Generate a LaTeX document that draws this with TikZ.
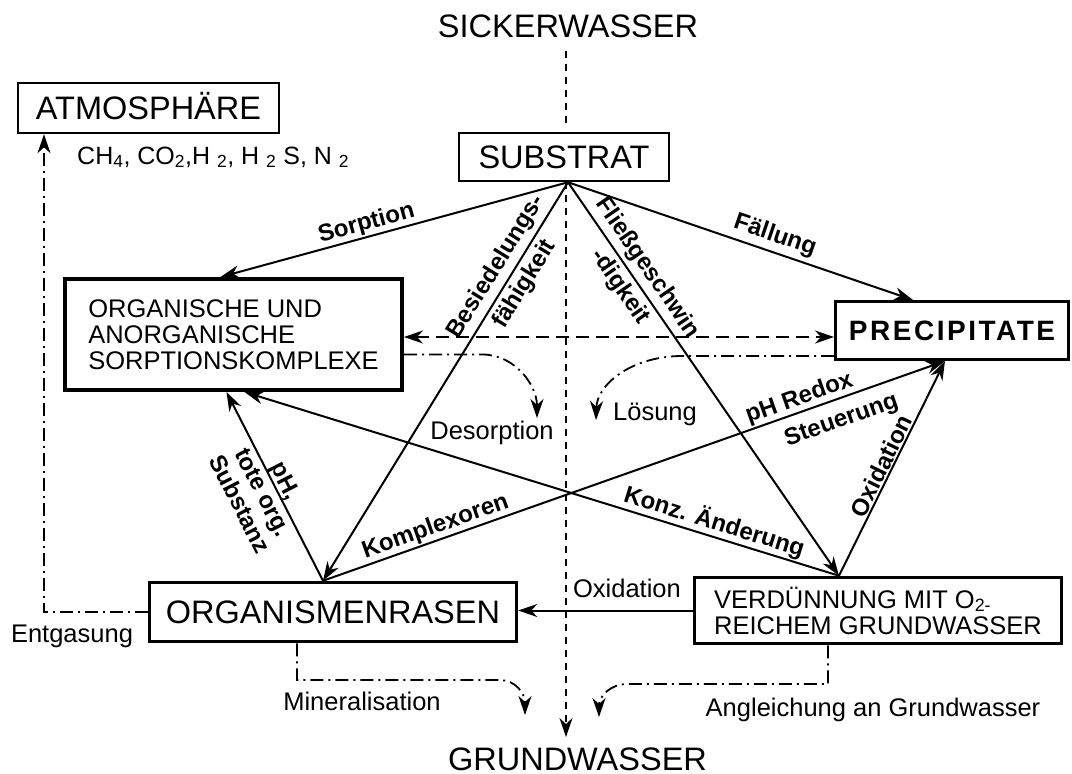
\documentclass[tikz,border=0pt]{standalone}
\usepackage{fontspec}
\setmainfont{Liberation Sans}
\usetikzlibrary{arrows.meta,positioning,calc}

\newcommand\titlesize{\fontsize{32.5}{36}\selectfont}
\newcommand\boxsize{\fontsize{25.5}{26}\selectfont}
\newcommand\notesize{\fontsize{25.5}{28}\selectfont}
\newcommand\tagsize{\fontsize{24}{26}\selectfont\bfseries}
\newcommand\widetagsize{\fontsize{24}{33}\selectfont\bfseries}
\newcommand\precipfont{\bfseries\addfontfeatures{LetterSpace=9}\fontsize{28}{30}\selectfont}

\begin{document}
\begin{tikzpicture}[x=1pt,y=-1pt,
  diabox/.style={draw,line width=2.5pt,inner sep=0pt,font=\titlesize},
  capline/.style={text height=23.5pt,text depth=0pt},
  flow/.style={line width=2pt,-{Stealth[length=19pt,width=13pt,inset=6pt]}},
  seep/.style={line width=1.8pt,dash pattern=on 7pt off 6pt},
  chem/.style={line width=1.8pt,dash pattern=on 13pt off 5pt on 2pt off 5pt,
    -{Stealth[length=19pt,width=13pt,inset=6pt]}},
  notetext/.style={font=\notesize,inner sep=0pt},
  flowtag/.style={font=\tagsize,sloped,inner sep=1pt}
]
  \useasboundingbox (0,0) rectangle (1072,774);
  % water in and out
  \node[font=\titlesize,anchor=base,inner sep=0pt] (sicker) at (568,37) {SICKERWASSER};
  \node[font=\titlesize,anchor=base,inner sep=0pt] (grund) at (577.5,770) {GRUNDWASSER};
  % compartments
  \node[diabox,capline,minimum width=261,minimum height=50] (atmo) at (148.5,108) {ATMOSPHÄRE};
  \node[diabox,capline,minimum width=210,minimum height=48] (substrat) at (564,157) {SUBSTRAT};
  \node[diabox,line width=4pt,minimum width=337,minimum height=111,font=\boxsize,align=left]
    (organ) at (233.5,334.5) {ORGANISCHE UND\\ANORGANISCHE\\SORPTIONSKOMPLEXE};
  \node[diabox,line width=3pt,minimum width=233,minimum height=58,font=\precipfont,
    text height=20pt,text depth=0pt] (precip) at (952,330.5) {PRECIPITATE};
  \node[diabox,capline,line width=3.5pt,minimum width=367,minimum height=59]
    (organismen) at (333,612) {ORGANISMENRASEN};
  \node[diabox,line width=3.5pt,minimum width=367,minimum height=66,font=\boxsize,align=left]
    (verd) at (878,610.5) {VERDÜNNUNG MIT O\textsubscript{2-}\\REICHEM GRUNDWASSER};
  % free texts
  \node[notetext,font=\fontsize{25}{27}\selectfont,anchor=base west] (gas) at (77,164)
    {CH\textsubscript{4}, CO\textsubscript{2},H \textsubscript{2}, H \textsubscript{2} S, N \textsubscript{2}};
  \node[notetext,anchor=base] (entg) at (72,642) {Entgasung};
  \node[notetext,anchor=base] (minlbl) at (362,710) {Mineralisation};
  \node[notetext,anchor=base] (anglbl) at (873,716) {Angleichung an Grundwasser};
  \node[notetext,anchor=base] (desorp) at (492,439) {Desorption};
  \node[notetext,anchor=base west] (loesung) at (613,420) {Lösung};

  \coordinate (apex) at ([xshift=4]substrat.south);
  \coordinate (sorpR) at ([yshift=-2.5]organ.east);
  \coordinate (desorptip) at (537,418);
  \coordinate (loesungtip) at (596,420);
  \coordinate (mintip) at (525,715);
  \coordinate (angtip) at (599,717);
  \coordinate (grundtip) at (566,737);

  % from the substrate
  \draw[flow] (apex) -- node[flowtag,above,pos=0.57] {Sorption} ([xshift=-13]organ.north);
  \draw[flow] (apex) -- node[flowtag,above=3pt,pos=0.585] {Fällung} ([xshift=-39]precip.north);
  \draw[flow] (apex) -- node[flowtag,font=\widetagsize,align=center,pos=0.234]
    {Besiedelungs-\\fähigkeit} ([xshift=-10]organismen.north);
  \draw[flow] (apex) -- node[flowtag,font=\widetagsize,align=center,pos=0.242]
    {Fließgeschwin\\-digkeit} ([xshift=-39]verd.north);
  % between the compartments
  \draw[flow] ([xshift=-10]organismen.north) -- node[flowtag,above,pos=0.188] {Komplexoren}
    node[flowtag,above,pos=0.773] {pH Redox} node[flowtag,below=9pt,pos=0.822] {Steuerung}
    ([xshift=-7]precip.south);
  \draw[flow] ([xshift=-10]organismen.north) -- node[flowtag,align=center,pos=0.5,yshift=-13]
    {pH,\\tote org.\\Substanz} ([xshift=-7]organ.south);
  \draw[flow] ([xshift=-39]verd.north) -- node[flowtag,above,pos=0.217] {Konz. Änderung}
    ([xshift=11]organ.south);
  \draw[flow] ([xshift=-39]verd.north) -- node[flowtag,above,pos=0.49] {Oxidation}
    ([xshift=-7]precip.south);
  \draw[flow] (verd.west) -- node[notetext,above=12pt,pos=0.377] {Oxidation}
    (verd.west -| organismen.east);
  % seepage water
  \draw[seep,shorten <=13pt,shorten >=5pt] ([xshift=-2]sicker.south) -- ([xshift=2]substrat.north);
  \draw[seep,-{Stealth[length=19pt,width=13pt,inset=6pt]}] ([xshift=2]substrat.south) -- (grundtip);
  \draw[line width=1.8pt,dash pattern=on 13pt off 7pt,
    {Stealth[length=19pt,width=13pt,inset=6pt]}-{Stealth[length=19pt,width=13pt,inset=6pt]}]
    (sorpR) -- (sorpR -| precip.west);
  % release paths
  \draw[chem] ([yshift=-20]organ.east) -- (483,354.5) .. controls (515,355) and (537,385) .. (desorptip);
  \draw[chem] ([yshift=-25.5]precip.west) -- (680,356) .. controls (630,357) and (597,385) .. (loesungtip);
  \draw[chem] (organismen.west) -| ([xshift=-104.5]atmo.south);
  \draw[chem] ([xshift=-36]organismen.south) |- (500,680) .. controls (515,680) and (525,693) .. (mintip);
  \draw[chem] ([xshift=-50]verd.south) |- (627,684) .. controls (610,684) and (599,697) .. (angtip);
\end{tikzpicture}
\end{document}
